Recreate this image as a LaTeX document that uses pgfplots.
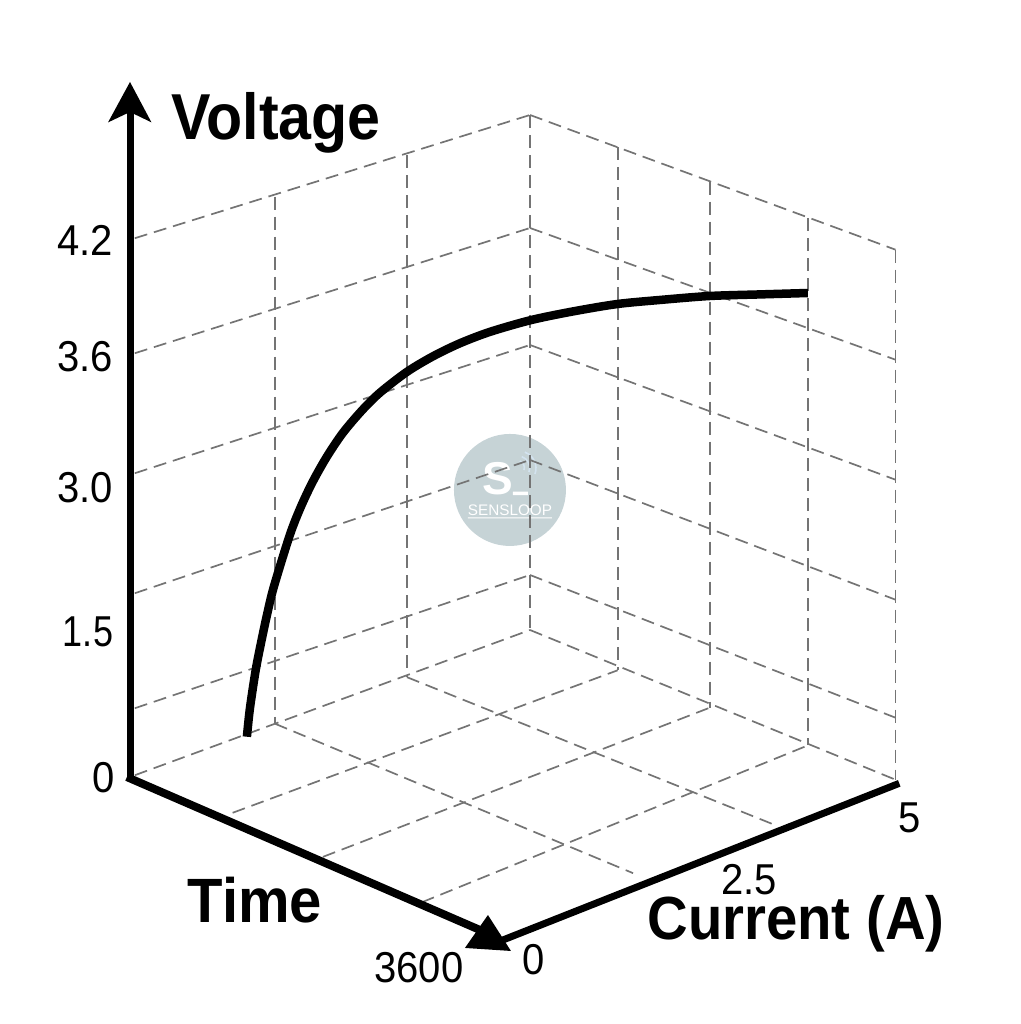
\documentclass[border=0pt]{standalone}
\usepackage{fontspec}
\setmainfont{Liberation Sans}
\usepackage{pgfplots}
\pgfplotsset{compat=1.18}
\definecolor{gridc}{HTML}{747474}
\definecolor{wm}{HTML}{C6D3D6}
\definecolor{wifi}{HTML}{D3E3EF}
% x = time (s), y = current (A), z = height of the voltage scale, in picture units
\pgfplotsset{gl/.style={color=gridc,line width=1.7pt,dash pattern=on 13pt off 7pt}}
\newcommand\G[6]{\addplot3[gl] coordinates {(#1,#2,#3) (#4,#5,#6)};}
\newcommand\PX[2]{(axis cs:{(#1-130)/373*3600},0,{777+163*(#1-130)/373-(#2)})}
\newcommand\PP[2]{([shift={({(#1-130)*1pt},{(777-(#2))*1pt})}]O)}
\begin{document}
\begin{tikzpicture}
\begin{axis}[
  hide axis, clip=false,
  x={(0.103611pt,-0.045278pt)}, y={(80pt,29.4pt)}, z={(0pt,1pt)},
  xmin=0,xmax=3600,ymin=0,ymax=5,zmin=0,zmax=700,
]
% watermark disc
\fill[wm] \PX{510}{490} circle[radius=56pt];
\node[text=white,font=\fontsize{46}{46}\selectfont\bfseries] at \PX{498}{479} {S};
\node[text=white,font=\fontsize{15.3}{15.3}\selectfont] at \PX{510}{510} {SENSLOOP};
\draw[white,line width=3.5pt] \PX{513}{493.5} -- \PX{528}{493.5};
\draw[white,line width=1pt] \PX{468}{518} -- \PX{552}{518};
\draw[wifi,line width=1.6pt] \PX{524}{470} arc[start angle=-20,end angle=70,radius=7pt];
\draw[wifi,line width=1.6pt] \PX{529}{472} arc[start angle=-20,end angle=70,radius=12pt];
\draw[wifi,line width=1.6pt] \PX{535}{474} arc[start angle=-20,end angle=70,radius=17pt];
% left wall, horizontal
\G{0}{0.06}{537}{0}{5}{515}
\G{0}{0.06}{422}{0}{5}{402}
\G{0}{0.06}{302}{0}{5}{285}
\G{0}{0.06}{182}{0}{5}{170}
\G{0}{0.06}{67}{0}{5}{55}
% left wall, vertical
\G{0}{1.8125}{527}{0}{1.8125}{0}
\G{0}{3.4625}{520}{0}{3.4625}{-2}
\G{0}{5}{515}{0}{5}{0}
% right wall, horizontal
\G{0}{5}{515}{3528}{5}{540}
\G{0}{5}{402}{3528}{5}{430}
\G{0}{5}{285}{3528}{5}{310}
\G{0}{5}{170}{3528}{5}{190}
\G{0}{5}{55}{3528}{5}{72}
% right wall, vertical
\G{846}{5}{521}{846}{5}{-2}
\G{1737}{5}{527}{1737}{5}{1}
\G{2682}{5}{533}{2682}{5}{6}
\G{3528}{5}{540}{3528}{5}{10}
% floor
\G{0}{0.06}{0}{0}{5}{0}
\G{846}{0.1875}{-3}{846}{5}{-2}
\G{1737}{0.1625}{-6}{1737}{5}{1}
\G{2682}{0.175}{-9}{2682}{5}{6}
\G{0}{1.8125}{0}{3456}{1.8125}{7}
\G{0}{3.4625}{-2}{3560}{3.4625}{11}
\G{0}{5}{0}{3528}{5}{10}
% axes
\addplot3[black,line width=7pt] coordinates {(0,0,675) (0,0,0)};
\addplot3[black,line width=8pt] coordinates {(-30,0,-1.4) (3560,0,0)};
\addplot3[black,line width=7pt] coordinates {(3600,0,0) (3564,5,8)};
\addplot3[black,fill=black,draw=none] coordinates {(0,0,695) (-212,0,645) (0,0,665) (207,0,664)} -- cycle;
\addplot3[black,fill=black,draw=none] coordinates {(3455,0,18.4) (3233,0,-24.6) (3677,0,-7.5)} -- cycle;
% voltage curve
\addplot3[black,line width=8.5pt,smooth] coordinates {
(1,1.46,-2.6) (14,1.48,25.2) (42,1.515,63.4) (67,1.548,90.5) (96,1.586,119.1) (129,1.630,147.9)
(206,1.731,200.4) (258,1.801,228.8) (316,1.876,254.6) (383,1.965,279.9)
(459,2.066,304.1) (550,2.186,327.1) (636,2.299,345.4) (765,2.470,367.1) (889,2.634,383.4)
(1018,2.804,397.3) (1162,2.994,409.7) (1353,3.25,422.4) (1544,3.50,432) (1769,3.79,441.5)
(1975,4.07,446.8) (2213,4.38,452.4) (2452,4.70,455.4) (2682,5,458.4)};
\coordinate (O) at (axis cs:0,0,0);
\end{axis}
\def\tk#1{\fontsize{40}{40}\selectfont\scalebox{1}[1.08]{#1}}
\def\lb#1#2#3{\fontsize{58}{58}\selectfont\bfseries\scalebox{#1}[#2]{#3}}
\node at \PP{276}{123} {\lb{1.02}{1.12}{Voltage}};
\node at \PP{255}{900} {\lb{1}{1.08}{Time}};
\node at \PP{796}{924} {\lb{.97}{1.05}{Current (A)}};
\node at \PP{85}{240} {\tk{4.2}};
\node at \PP{85}{357} {\tk{3.6}};
\node at \PP{85}{488} {\tk{3.0}};
\node at \PP{88}{632} {\scalebox{.9}[1]{\tk{1.5}}};
\node at \PP{104}{778} {\tk{0}};
\node at \PP{419}{968} {\tk{3600}};
\node at \PP{534}{960} {\tk{0}};
\node at \PP{749}{880} {\tk{2.5}};
\node at \PP{910}{818} {\tk{5}};
\pgfresetboundingbox
\path[use as bounding box] \PP{0}{1024} rectangle \PP{1020}{0};
\end{tikzpicture}
\end{document}
